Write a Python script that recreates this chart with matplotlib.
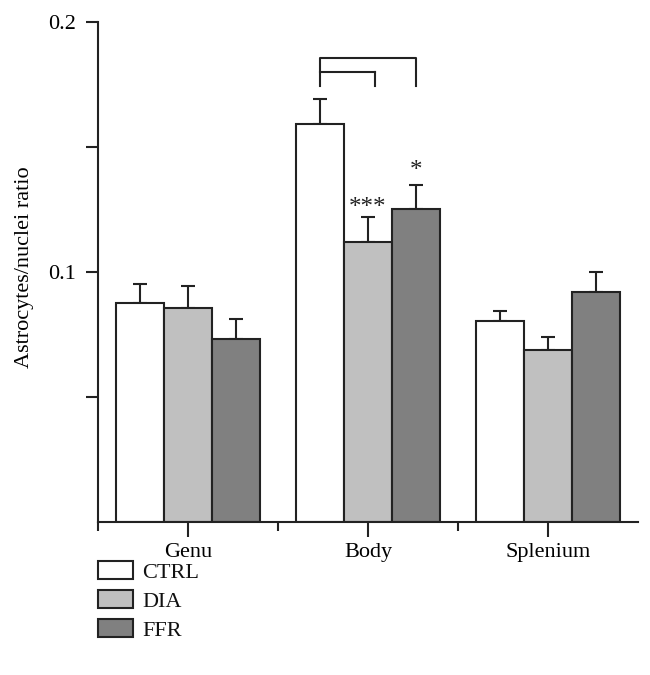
import numpy as np
import matplotlib
matplotlib.use('Agg')
import matplotlib.pyplot as plt
from matplotlib.patches import Rectangle

plt.rcParams['font.family'] = ['Liberation Serif', 'DejaVu Serif']

# data
regions = ['Genu', 'Body', 'Splenium']
groups = ['CTRL', 'DIA', 'FFR']
ctrl = [0.0876, 0.1592, 0.0804]
dia = [0.0856, 0.1120, 0.0688]
ffr = [0.0732, 0.1252, 0.0920]
ctrl_err = [0.0076, 0.0100, 0.0040]
dia_err = [0.0088, 0.0100, 0.0052]
ffr_err = [0.0080, 0.0096, 0.0080]
colors = ['#ffffff', '#c0c0c0', '#808080']
edge = '#222222'

W, H = 650, 675
fig = plt.figure(figsize=(W / 100, H / 100), dpi=100)
ax = fig.add_axes([98 / W, 1 - 522 / H, 540 / W, 500 / H])

x = np.arange(len(regions))
w = 0.265
vals = [ctrl, dia, ffr]
errs = [ctrl_err, dia_err, ffr_err]
for i, (v, e) in enumerate(zip(vals, errs)):
    pos = x + (i - 1) * w
    ax.bar(pos, v, w, color=colors[i], edgecolor=edge, linewidth=1.5,
           label=groups[i], zorder=2)
    ax.errorbar(pos, v, yerr=[np.zeros(len(e)), e], fmt='none', ecolor=edge,
                elinewidth=1.5, capsize=4.7, capthick=1.5, zorder=1)

# significance bracket on Body
xb = x[1]
x_ctrl = xb - w
x_dia = xb + 0.04
x_ffr = xb + w
y_out = 0.1856
y_in = 0.180
y_low = 0.1744
ax.plot([x_ctrl, x_ctrl, x_ffr, x_ffr], [y_low, y_out, y_out, y_low], color=edge, lw=1.5)
ax.plot([x_ctrl, x_dia], [y_in, y_in], color=edge, lw=1.5)
ax.plot([x_dia, x_dia], [y_in, y_low], color=edge, lw=1.5)
ax.text(xb, 0.1234, '***', ha='center', va='baseline', fontsize=18, color=edge)
ax.text(xb + w, 0.1380, '*', ha='center', va='baseline', fontsize=18, color=edge)

ax.set_xlim(-0.5, 2.5)
ax.set_ylim(0, 0.2)
ax.set_yticks([0.05, 0.1, 0.15, 0.2])
ax.set_yticklabels(['', '0.1', '', '0.2'])
ax.set_xticks(x)
ax.set_xticklabels(regions)
ax.set_xticks([-0.5, 0.5, 1.5], minor=True)
ax.tick_params(axis='y', direction='out', length=8.6, width=1.5, color=edge,
               labelsize=16, pad=7)
ax.tick_params(axis='x', which='major', direction='out', length=10.8, width=1.5,
               color=edge, labelsize=16, pad=4.5)
ax.tick_params(axis='x', which='minor', direction='out', length=6.5, width=1.5, color=edge)
for s in ['top', 'right']:
    ax.spines[s].set_visible(False)
for s in ['left', 'bottom']:
    ax.spines[s].set_linewidth(1.5)
    ax.spines[s].set_color(edge)
ax.set_ylabel('Astrocytes/nuclei ratio', fontsize=16)
ax.yaxis.set_label_coords(-0.118, 0.51)

# legend, drawn as boxes below the axis
for i, g in enumerate(groups):
    top = 561 + 29 * i
    fig.add_artist(Rectangle((98 / W, 1 - (top + 18) / H), 35 / W, 18 / H,
                             transform=fig.transFigure, facecolor=colors[i],
                             edgecolor=edge, linewidth=1.5))
    fig.text(142 / W, 1 - (top + 17) / H, g, ha='left', va='baseline',
             fontsize=16, color='#111111')

fig.savefig('out.png', dpi=100)
